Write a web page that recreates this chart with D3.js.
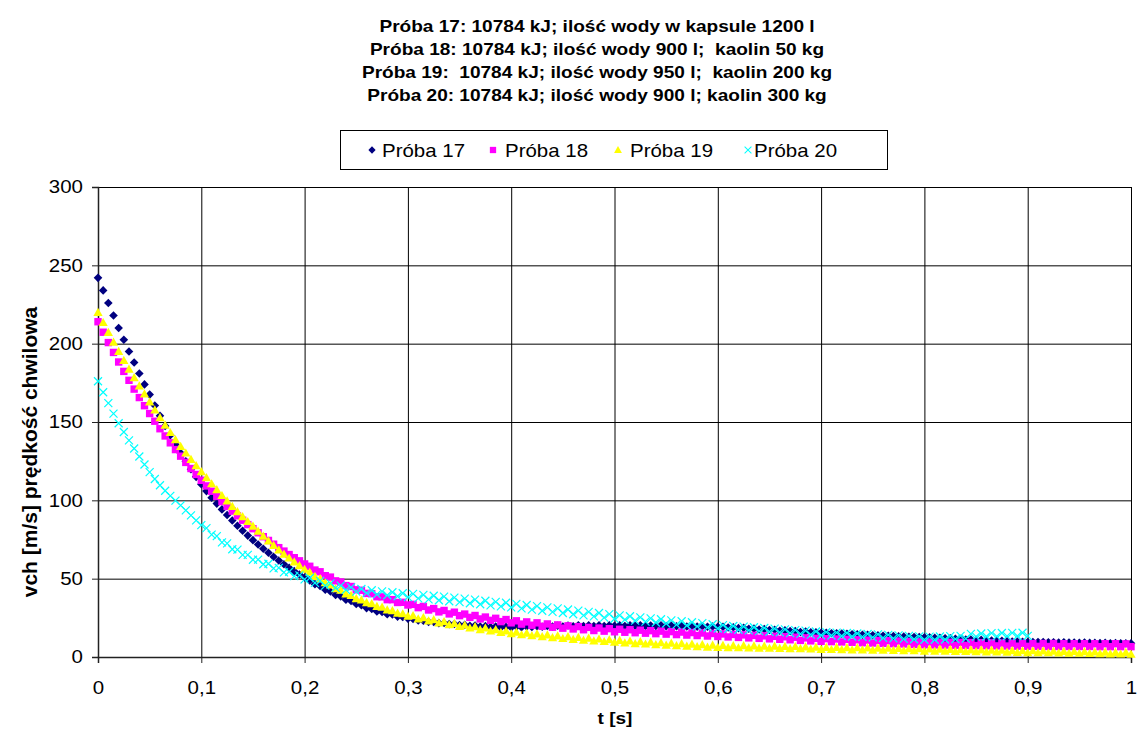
<!DOCTYPE html>
<html>
<head>
<meta charset="utf-8">
<script src="https://cdn.jsdelivr.net/npm/d3@7"></script>
<style>
  html, body { margin: 0; padding: 0; background: #fff; }
  svg { display: block; }
  text { font-family: "Liberation Sans", Arial, sans-serif; fill: #000; white-space: pre; }
</style>
</head>
<body>
<svg id="chart" width="1137" height="729"></svg>
<script>
// ---- chart text ----
const titleLines = [
  "Próba 17: 10784 kJ; ilość wody w kapsule 1200 l",
  "Próba 18: 10784 kJ; ilość wody 900 l;  kaolin 50 kg",
  "Próba 19:  10784 kJ; ilość wody 950 l;  kaolin 200 kg",
  "Próba 20: 10784 kJ; ilość wody 900 l; kaolin 300 kg"
];
const seriesNames = ["Próba 17", "Próba 18", "Próba 19", "Próba 20"];
const xLabel = "t [s]";
const yLabel = "vch [m/s] prędkość chwilowa";
const xTicks = [0, 0.1, 0.2, 0.3, 0.4, 0.5, 0.6, 0.7, 0.8, 0.9, 1];
const yTicks = [0, 50, 100, 150, 200, 250, 300];

// ---- measurements: instantaneous velocity [m/s], sampled every 5 ms from t = 0 ----
const sampleStep = 0.005;

const proba17 = [
  242, 234, 226, 218, 210, 202.5, 195, 188, 181, 174, 167.5, 160.5, 154, 147.5, 141.5, 135.7, 130.2, 124.9, 119.8, 115, 110.3,
  105.9, 101.7, 97.9, 94.2, 90.6, 87.1, 83.8, 80.6, 77.5, 74.6, 71.8, 69.1, 66.5, 64, 61.6, 59.2, 57, 54.8, 52.7, 50.7,
  48.9, 46.5, 45.3, 42.9, 41.8, 39.6, 38.7, 36.6, 35.8, 33.8, 33.1, 31.2, 30.7, 29.1, 28.8, 27.3, 27.1, 25.8, 25.6, 24.5,
  24.3, 23.3, 23.2, 22.4, 22.4, 21.6, 21.7, 21.0, 21.1, 20.4, 20.5, 19.9, 20.1, 19.5, 19.7, 19.1, 19.4, 18.9, 19.3, 18.9,
  19.4, 19.0, 19.5, 19.2, 19.7, 19.3, 19.8, 19.4, 19.9, 19.5, 20.1, 19.6, 20.2, 19.7, 20.2, 19.8, 20.3, 19.8, 20.2, 19.9,
  20.3, 19.8, 20.2, 19.9, 20.3, 19.8, 20.1, 19.8, 20.2, 19.7, 20.0, 19.6, 19.9, 19.5, 19.8, 19.4, 19.6, 19.3, 19.5, 19.2,
  19.3, 18.8, 19.0, 18.4, 18.6, 18.0, 18.1, 17.6, 17.8, 17.2, 17.4, 16.8, 17.0, 16.5, 16.6, 16.0, 16.2, 15.7, 15.8, 15.4,
  15.5, 15.2, 15.2, 14.9, 14.8, 14.5, 14.5, 14.2, 14.2, 13.9, 13.8, 13.6, 13.5, 13.3, 13.2, 13.0, 12.9, 12.7, 12.7, 12.5,
  12.5, 12.2, 12.3, 11.9, 11.9, 11.6, 11.6, 11.2, 11.2, 10.9, 10.9, 10.6, 10.5, 10.3, 10.3, 10.0, 9.9, 9.8, 9.7, 9.6,
  9.6, 9.5, 9.6, 9.4, 9.4, 9.3, 9.4, 9.2, 9.2, 9.1, 9.2, 9.0, 9.0, 8.9, 9.0, 8.8, 8.9, 8.8, 8.8, 8.7
];

const proba18 = [
  214, 207.3, 200.7, 194.4, 188.3, 182.3, 176.6, 171, 165.6, 160.4, 155.4, 150.5, 145.7, 141.1, 136.7, 132.4, 128.2, 124.2, 120.3, 116.5, 112.8,
  109.2, 105.8, 102.5, 99.2, 96.1, 93.1, 90.1, 87.3, 84.5, 81.9, 79.3, 76.8, 74.4, 72, 69.8, 67.6, 65.4, 63.4, 61.4, 59.4,
  57.9, 55.5, 54.4, 51.9, 51.0, 48.6, 47.9, 45.6, 45.0, 42.9, 42.6, 40.6, 40.4, 38.5, 38.4, 36.6, 36.6, 34.8, 34.9, 33.2,
  33.6, 31.5, 32.3, 30.0, 30.9, 28.8, 29.7, 27.5, 28.6, 26.4, 27.4, 25.3, 26.5, 24.3, 25.5, 23.4, 24.7, 22.6, 23.9, 21.8,
  23.1, 21.0, 22.4, 20.3, 21.8, 19.6, 21.1, 19.0, 20.5, 18.4, 19.9, 17.9, 19.4, 17.4, 18.9, 16.9, 18.5, 16.5, 18.1, 16.1,
  17.7, 15.8, 17.4, 15.5, 17.1, 15.2, 16.8, 14.9, 16.5, 14.6, 16.2, 14.3, 15.9, 14.0, 15.6, 13.7, 15.3, 13.4, 15.0, 13.1,
  14.7, 12.8, 14.4, 12.5, 14.1, 12.2, 13.8, 11.9, 13.5, 11.6, 13.2, 11.3, 12.9, 11.0, 12.6, 10.6, 12.2, 10.3, 11.9, 10.0,
  11.7, 9.8, 11.5, 9.6, 11.3, 9.4, 11.0, 9.1, 10.8, 8.9, 10.6, 8.7, 10.4, 8.5, 10.2, 8.3, 9.9, 8.0, 9.7, 7.8,
  9.6, 7.7, 9.5, 7.6, 9.4, 7.5, 9.3, 7.4, 9.2, 7.3, 9.1, 7.2, 9.0, 7.1, 8.9, 7.0, 8.8, 6.9, 8.7, 6.8,
  8.6, 6.8, 8.6, 6.7, 8.6, 6.7, 8.5, 6.7, 8.5, 6.7, 8.5, 6.7, 8.5, 6.6, 8.5, 6.6, 8.5, 6.6, 8.4, 6.6
];

const proba19 = [
  220, 213.5, 207.2, 201, 195.1, 189.3, 183.7, 178.3, 173, 167.9, 162.9, 157.8, 152.8, 148, 143.3, 138.8, 134.4, 130.2, 126.1, 122.1, 118.3,
  114.5, 110.6, 106.8, 103.1, 99.6, 96.1, 92.8, 89.6, 86.5, 83.6, 80.3, 77.2, 74.1, 71.2, 68.4, 65.7, 63.2, 60.7, 58.3, 56,
  54.1, 51.4, 50.0, 47.4, 46.1, 43.7, 42.6, 40.3, 39.3, 37.2, 36.5, 34.7, 34.1, 32.3, 31.8, 30.1, 29.6, 28.0, 27.6, 26.1,
  26.4, 24.3, 25.1, 23.0, 23.9, 21.8, 22.6, 20.7, 21.5, 19.6, 20.4, 18.5, 19.4, 17.5, 18.5, 16.6, 17.5, 15.7, 16.7, 14.9,
  15.9, 14.2, 15.3, 13.6, 14.7, 13.0, 14.1, 12.4, 13.5, 11.8, 13.0, 11.3, 12.5, 10.8, 12.0, 10.3, 11.5, 9.9, 11.0, 9.4,
  10.6, 9.0, 10.2, 8.6, 9.8, 8.3, 9.5, 7.9, 9.1, 7.6, 8.8, 7.2, 8.5, 6.9, 8.2, 6.6, 7.9, 6.3, 7.6, 6.1,
  7.4, 6.0, 7.3, 5.9, 7.2, 5.8, 7.1, 5.7, 7.0, 5.6, 6.9, 5.5, 6.8, 5.4, 6.7, 5.3, 6.5, 5.1, 6.3, 4.9,
  6.2, 4.8, 6.1, 4.7, 6.0, 4.6, 5.9, 4.5, 5.8, 4.4, 5.7, 4.3, 5.6, 4.2, 5.5, 4.1, 5.4, 4.0, 5.3, 3.8,
  5.1, 3.8, 5.0, 3.7, 4.9, 3.6, 4.7, 3.5, 4.6, 3.4, 4.5, 3.3, 4.4, 3.2, 4.3, 3.1, 4.1, 2.9, 4.0, 2.8,
  4.0, 2.8, 3.9, 2.7, 3.7, 2.6, 3.6, 2.5, 3.5, 2.4, 3.4, 2.3, 3.2, 2.1, 3.1, 2.0, 3.0, 1.9, 2.9, 1.8
];

const proba20 = [
  176, 169, 162, 155.3, 149.2, 143.6, 138.3, 133.1, 128, 122.9, 118, 113.6, 109.6, 106.1, 102.8, 99.8, 96.8, 93.6, 90.4, 87.2, 84.2,
  82.3, 78.1, 77.2, 73.2, 72.5, 68.8, 68.5, 65.2, 65.2, 62.1, 62.2, 59.2, 59.5, 56.6, 56.9, 54.0, 54.4, 51.6, 52.1, 49.5,
  50.4, 47.3, 48.6, 45.6, 47.0, 44.1, 45.6, 42.8, 44.4, 41.7, 43.4, 40.8, 42.6, 40.0, 41.9, 39.4, 41.3, 38.8, 40.7, 38.2,
  40.3, 37.4, 39.7, 36.8, 39.1, 36.2, 38.5, 35.6, 37.9, 35.0, 37.3, 34.3, 36.6, 33.7, 35.9, 33.0, 35.2, 32.3, 34.6, 31.7,
  33.9, 31.0, 33.2, 30.2, 32.5, 29.5, 31.7, 28.8, 31.0, 28.1, 30.3, 27.3, 29.6, 26.6, 28.8, 25.9, 28.1, 25.1, 27.4, 24.4,
  26.6, 23.9, 26.0, 23.2, 25.3, 22.6, 24.7, 22.0, 24.1, 21.4, 23.4, 20.7, 22.8, 20.1, 22.2, 19.5, 21.6, 18.8, 20.9, 18.2,
  20.3, 17.9, 19.8, 17.4, 19.4, 17.0, 19.0, 16.5, 18.5, 16.1, 18.1, 15.7, 17.6, 15.2, 17.2, 14.8, 16.8, 14.3, 16.3, 13.9,
  15.9, 13.7, 15.6, 13.4, 15.3, 13.1, 15.0, 12.8, 14.7, 12.5, 14.4, 12.2, 14.1, 11.9, 13.8, 11.6, 13.5, 11.3, 13.2, 11.0,
  13.0, 11.0, 13.1, 11.2, 13.3, 11.4, 13.5, 11.7, 14.8, 13.0, 15.0, 13.1, 15.2, 13.2, 15.3, 13.3, 15.4, 13.4, 15.5, 13.5
];

const seriesValues = [proba17, proba18, proba19, proba20];
const seriesColors = ["#000080", "#FF00FF", "#FFFF00", "#00FFFF"];
const seriesMarkers = ["diamond", "square", "triangle", "cross"];

// ---- layout ----
const svg = d3.select("#chart");
const W = 1137, H = 729;
const plot = { left: 98, right: 1131, top: 187, bottom: 657 };
const textStretch = 1.17;   // glyphs in this chart are drawn slightly wide

const x = d3.scaleLinear().domain([0, 1]).range([plot.left, plot.right]);
const y = d3.scaleLinear().domain([0, 300]).range([plot.bottom, plot.top]);

svg.append("rect").attr("width", W).attr("height", H).attr("fill", "#fff");

// stretched text helper
function label(g, str, px, py, opts) {
  return g.append("text")
    .attr("transform", `translate(${px},${py}) scale(${textStretch},1)`)
    .attr("text-anchor", opts.anchor || "start")
    .attr("dominant-baseline", "central")
    .style("font-size", opts.size + "px")
    .style("font-weight", opts.bold ? "bold" : "normal")
    .text(str);
}

// ---- title ----
const titleG = svg.append("g");
titleLines.forEach((line, i) => {
  label(titleG, line, 597, 26 + i * 23.3, { anchor: "middle", size: 16.3, bold: true });
});

// ---- grid ----
const grid = svg.append("g").attr("class", "grid");
grid.append("g")
  .attr("transform", `translate(0,${plot.bottom})`)
  .call(d3.axisBottom(x).tickValues(xTicks).tickSize(-(plot.bottom - plot.top)).tickFormat(""))
  .call(g => g.select(".domain").remove())
  .call(g => g.selectAll("line").attr("stroke", "#000").attr("stroke-width", 1));
grid.append("g")
  .attr("transform", `translate(${plot.left},0)`)
  .call(d3.axisLeft(y).tickValues(yTicks).tickSize(-(plot.right - plot.left)).tickFormat(""))
  .call(g => g.select(".domain").remove())
  .call(g => g.selectAll("line").attr("stroke", "#000").attr("stroke-width", 1));

// ---- axes ----
const commaFmt = d3.formatLocale({ decimal: ",", thousands: " ", grouping: [3], currency: ["", ""] }).format("~g");

const xAxisG = svg.append("g")
  .attr("transform", `translate(0,${plot.bottom})`)
  .call(d3.axisBottom(x).tickValues(xTicks).tickSize(6).tickPadding(0).tickFormat(commaFmt));
xAxisG.select(".domain").attr("stroke", "#222").attr("stroke-width", 1.5);
xAxisG.selectAll(".tick line").attr("stroke", "#222");
xAxisG.selectAll(".tick text")
  .attr("y", 0).attr("dy", null)
  .attr("transform", `translate(0,31) scale(${textStretch},1)`)
  .attr("dominant-baseline", "central")
  .style("font-size", "17.5px").style("font-family", "'Liberation Sans', Arial, sans-serif").attr("fill", "#000");

const yAxisG = svg.append("g")
  .attr("transform", `translate(${plot.left},0)`)
  .call(d3.axisLeft(y).tickValues(yTicks).tickSize(6).tickPadding(0).tickFormat(d3.format("d")));
yAxisG.select(".domain").attr("stroke", "#222").attr("stroke-width", 1.5);
yAxisG.selectAll(".tick line").attr("stroke", "#222");
yAxisG.selectAll(".tick text")
  .attr("x", 0).attr("dy", null)
  .attr("transform", `translate(-15,0) scale(${textStretch},1)`)
  .attr("dominant-baseline", "central")
  .style("font-size", "17.5px").style("font-family", "'Liberation Sans', Arial, sans-serif").attr("fill", "#000");
svg.selectAll(".domain").attr("fill", "none");

// axis titles
label(svg, xLabel, 615, 718, { anchor: "middle", size: 16.3, bold: true });
svg.append("text")
  .attr("transform", "translate(29,452) rotate(-90)")
  .attr("text-anchor", "middle")
  .attr("dominant-baseline", "central")
  .style("font-size", "21px").style("font-weight", "bold")
  .text(yLabel);

// ---- markers ----
function markerPath(kind) {
  switch (kind) {
    case "diamond": return "M0,-4.3L4.3,0L0,4.3L-4.3,0Z";
    case "square": return "M-3.7,-3.7H3.7V3.7H-3.7Z";
    case "triangle": return "M0,-4.6L4.6,3.6L-4.6,3.6Z";
    case "cross": return "M-4,-4L4,4M-4,4L4,-4";
  }
}
function drawMarker(sel, kind, color) {
  if (kind === "cross") {
    sel.append("path").attr("d", markerPath(kind)).attr("fill", "none").attr("stroke", color).attr("stroke-width", 1.2);
  } else {
    sel.append("path").attr("d", markerPath(kind)).attr("fill", color).attr("stroke", "none");
  }
}

const clipId = "plotClip";
svg.append("clipPath").attr("id", clipId).append("rect")
  .attr("x", plot.left - 6).attr("y", plot.top - 6)
  .attr("width", plot.right - plot.left + 12).attr("height", plot.bottom - plot.top + 12);

const pointsG = svg.append("g").attr("clip-path", `url(#${clipId})`);
seriesValues.forEach((vals, si) => {
  const pts = vals.map((v, i) => ({ t: i * sampleStep, v }));
  const g = pointsG.append("g").attr("class", "series-" + si);
  g.selectAll("g.pt").data(pts).join("g")
    .attr("class", "pt")
    .attr("transform", d => `translate(${x(d.t)},${y(d.v)})`)
    .each(function () { drawMarker(d3.select(this), seriesMarkers[si], seriesColors[si]); });
});

// ---- legend ----
const legend = svg.append("g");
legend.append("rect").attr("x", 340.5).attr("y", 130.5).attr("width", 547).attr("height", 39)
  .attr("fill", "#fff").attr("stroke", "#000").attr("stroke-width", 1);
const legendMarkerX = [372, 493, 618, 748];
const legendTextX = [382, 505, 630, 754];
seriesNames.forEach((name, i) => {
  const m = legend.append("g").attr("transform", `translate(${legendMarkerX[i]},150) scale(0.85)`);
  drawMarker(m, seriesMarkers[i], seriesColors[i]);
  label(legend, name, legendTextX[i], 151, { anchor: "start", size: 17.5 });
});
</script>
</body>
</html>
